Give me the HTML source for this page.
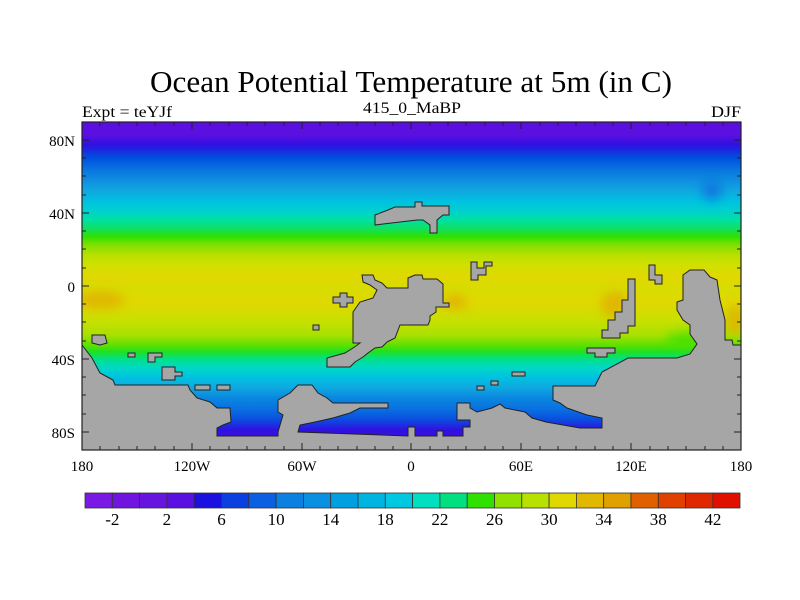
<!DOCTYPE html>
<html><head><meta charset="utf-8"><style>html,body{margin:0;padding:0;background:#fff}svg{display:block}</style></head>
<body>
<svg width="800" height="600" viewBox="0 0 800 600" xmlns="http://www.w3.org/2000/svg" font-family="Liberation Serif, serif">
<defs>
<linearGradient id="g" x1="0" y1="122" x2="0" y2="450" gradientUnits="userSpaceOnUse">
<stop offset="0" stop-color="#5c0ee0"/>
<stop offset="0.04" stop-color="#5a10e0"/>
<stop offset="0.07" stop-color="#3010e0"/>
<stop offset="0.085" stop-color="#1a28e0"/>
<stop offset="0.11" stop-color="#0050e0"/>
<stop offset="0.14" stop-color="#0870e0"/>
<stop offset="0.18" stop-color="#1090e0"/>
<stop offset="0.21" stop-color="#10a8e0"/>
<stop offset="0.24" stop-color="#00c0e0"/>
<stop offset="0.27" stop-color="#00d0d0"/>
<stop offset="0.30" stop-color="#00e0a0"/>
<stop offset="0.325" stop-color="#10e060"/>
<stop offset="0.35" stop-color="#30e000"/>
<stop offset="0.375" stop-color="#80e000"/>
<stop offset="0.405" stop-color="#b8e000"/>
<stop offset="0.435" stop-color="#d0e000"/>
<stop offset="0.47" stop-color="#e0d800"/>
<stop offset="0.51" stop-color="#d8dc00"/>
<stop offset="0.55" stop-color="#e0d800"/>
<stop offset="0.605" stop-color="#c8e000"/>
<stop offset="0.65" stop-color="#a8e000"/>
<stop offset="0.68" stop-color="#60e000"/>
<stop offset="0.70" stop-color="#20e020"/>
<stop offset="0.725" stop-color="#00e090"/>
<stop offset="0.75" stop-color="#00d8c8"/>
<stop offset="0.78" stop-color="#00c0e0"/>
<stop offset="0.81" stop-color="#10a8e0"/>
<stop offset="0.84" stop-color="#0a88e0"/>
<stop offset="0.875" stop-color="#0a70e0"/>
<stop offset="0.905" stop-color="#0a50e0"/>
<stop offset="0.94" stop-color="#3010e0"/>
<stop offset="1" stop-color="#5010e0"/>
</linearGradient>
<filter id="b"><feGaussianBlur stdDeviation="5"/></filter>
<clipPath id="c"><rect x="82" y="122" width="659" height="328"/></clipPath>
</defs>
<text x="411" y="92" font-size="31" text-anchor="middle" textLength="522" lengthAdjust="spacingAndGlyphs">Ocean Potential Temperature at 5m (in C)</text>
<text x="82" y="117" font-size="16" textLength="90" lengthAdjust="spacingAndGlyphs">Expt = teYJf</text>
<text x="412" y="113" font-size="16" text-anchor="middle" textLength="98" lengthAdjust="spacingAndGlyphs">415_0_MaBP</text>
<text x="741" y="117" font-size="16" text-anchor="end" textLength="30" lengthAdjust="spacingAndGlyphs">DJF</text>
<rect x="82" y="122" width="659" height="328" fill="url(#g)"/>
<g clip-path="url(#c)">
<g filter="url(#b)" opacity="0.8">
<ellipse cx="100" cy="300" rx="25" ry="9" fill="#e0b000"/>
<ellipse cx="455" cy="302" rx="12" ry="8" fill="#e0b000"/>
<ellipse cx="615" cy="305" rx="14" ry="14" fill="#e0b000"/>
<ellipse cx="735" cy="320" rx="10" ry="15" fill="#e0b000"/>
<ellipse cx="712" cy="190" rx="10" ry="10" fill="#0a70e0"/>
<ellipse cx="690" cy="340" rx="25" ry="8" fill="#40e000"/>
</g>
</g>
<g fill="#a6a6a6" stroke="#222" stroke-width="1">
<polygon points="82,345 92,358 100,373 113,380 115,385 188,385 190,390 197,398 210,402 217,408 230,408 231,422 223,425 217,428 217,436 278,436 278,432 283,415 278,412 278,400 290,393 298,385 312,385 318,393 327,398 333,403 388,403 388,408 360,408 350,413 333,418 315,422 300,425 298,432 408,436 408,427 415,427 415,436 437,436 437,431 443,431 443,436 463,436 463,427 470,427 470,420 457,420 457,403 470,403 470,408 477,412 492,408 500,404 505,408 525,412 532,418 546,422 580,428 602,428 602,418 587,415 567,408 560,403 553,400 553,386 595,386 602,372 628,358 677,358 690,354 697,344 690,334 690,325 683,320 677,310 677,302 683,300 683,275 690,270 704,270 710,277 717,280 720,300 725,320 725,340 732,340 733,345 741,345 741,450 82,450"/>
<polygon points="362,275 373,275 375,280 382,283 387,288 408,288 408,278 415,275 422,275 423,279 437,279 443,284 443,303 449,303 449,307 436,307 436,312 430,316 430,320 428,325 400,325 395,338 387,342 382,347 375,348 368,353 363,357 355,362 350,367 327,367 327,358 345,353 353,348 360,343 353,343 353,312 360,302 373,298 377,290 370,285 363,282"/>
<polygon points="375,215 388,210 395,207 415,207 415,202 422,202 422,206 449,206 449,215 443,215 437,220 437,233 430,233 430,225 423,220 417,220 375,225"/>
<polygon points="333,297 340,297 340,293 347,293 347,297 353,297 353,303 347,303 347,307 340,307 340,303 333,303"/>
<rect x="313" y="325" width="6" height="5"/>
<polygon points="92,335 105,335 107,343 100,345 92,343"/>
<rect x="128" y="353" width="7" height="4"/>
<polygon points="148,353 162,353 162,357 155,357 155,362 148,362"/>
<polygon points="162,367 175,367 175,372 182,372 182,376 175,376 175,380 162,380"/>
<rect x="195" y="385" width="15" height="5"/>
<rect x="217" y="385" width="13" height="5"/>
<polygon points="471,262 477,262 477,268 484,268 484,262 492,262 492,266 486,266 486,275 478,275 478,280 471,280"/>
<polygon points="628,279 635,279 635,326 628,326 628,333 620,333 620,338 602,338 602,330 608,330 608,320 615,320 615,312 622,312 622,300 628,300"/>
<polygon points="649,265 655,265 655,275 662,275 662,284 655,284 655,280 649,280"/>
<polygon points="587,348 615,348 615,353 607,353 607,357 595,357 595,353 587,353"/>
<rect x="512" y="372" width="13" height="4"/>
<rect x="491" y="381" width="7" height="4"/>
<rect x="477" y="386" width="7" height="4"/>
</g>
<rect x="82" y="122" width="659" height="328" fill="none" stroke="#222" stroke-width="1.2"/>
<g font-size="15">
<text x="75" y="146" text-anchor="end">80N</text>
<text x="75" y="219" text-anchor="end">40N</text>
<text x="75" y="292" text-anchor="end">0</text>
<text x="75" y="365" text-anchor="end">40S</text>
<text x="75" y="438" text-anchor="end">80S</text>
<text x="82" y="471" text-anchor="middle">180</text>
<text x="192" y="471" text-anchor="middle">120W</text>
<text x="302" y="471" text-anchor="middle">60W</text>
<text x="411" y="471" text-anchor="middle">0</text>
<text x="521" y="471" text-anchor="middle">60E</text>
<text x="631" y="471" text-anchor="middle">120E</text>
<text x="741" y="471" text-anchor="middle">180</text>
</g>
<g stroke="#222" stroke-width="1">
<path d="M82 140h7M82 213h7M82 286h7M82 359h7M82 432h7M741 140h-7M741 213h-7M741 286h-7M741 359h-7M741 432h-7M82 158h4M82 176h4M82 195h4M82 231h4M82 249h4M82 268h4M82 304h4M82 322h4M82 341h4M82 377h4M82 395h4M82 414h4M741 158h-4M741 176h-4M741 195h-4M741 231h-4M741 249h-4M741 268h-4M741 304h-4M741 322h-4M741 341h-4M741 377h-4M741 395h-4M741 414h-4"/>
<path d="M192 450v-7M302 450v-7M411 450v-7M521 450v-7M631 450v-7M192 122v7M302 122v7M411 122v7M521 122v7M631 122v7"/>
<path d="M100 450v-4M119 450v-4M137 450v-4M155 450v-4M174 450v-4M210 450v-4M229 450v-4M247 450v-4M265 450v-4M284 450v-4M320 450v-4M338 450v-4M357 450v-4M375 450v-4M393 450v-4M430 450v-4M448 450v-4M466 450v-4M485 450v-4M503 450v-4M540 450v-4M558 450v-4M576 450v-4M595 450v-4M613 450v-4M650 450v-4M668 450v-4M686 450v-4M705 450v-4M723 450v-4"/>
<path d="M100 122v4M119 122v4M137 122v4M155 122v4M174 122v4M210 122v4M229 122v4M247 122v4M265 122v4M284 122v4M320 122v4M338 122v4M357 122v4M375 122v4M393 122v4M430 122v4M448 122v4M466 122v4M485 122v4M503 122v4M540 122v4M558 122v4M576 122v4M595 122v4M613 122v4M650 122v4M668 122v4M686 122v4M705 122v4M723 122v4"/>
</g>
<g stroke="#333" stroke-width="0.8">
<rect x="85.0" y="493" width="27.3" height="15" fill="#7a18e4"/>
<rect x="112.3" y="493" width="27.3" height="15" fill="#7014e0"/>
<rect x="139.6" y="493" width="27.3" height="15" fill="#6614e0"/>
<rect x="166.9" y="493" width="27.3" height="15" fill="#5a10e0"/>
<rect x="194.2" y="493" width="27.3" height="15" fill="#1a10e0"/>
<rect x="221.5" y="493" width="27.3" height="15" fill="#0a40e0"/>
<rect x="248.8" y="493" width="27.3" height="15" fill="#0a60e0"/>
<rect x="276.1" y="493" width="27.3" height="15" fill="#0a80e0"/>
<rect x="303.4" y="493" width="27.3" height="15" fill="#0a90e0"/>
<rect x="330.7" y="493" width="27.3" height="15" fill="#00a0e0"/>
<rect x="358.0" y="493" width="27.3" height="15" fill="#00b4e0"/>
<rect x="385.3" y="493" width="27.3" height="15" fill="#00c8e0"/>
<rect x="412.6" y="493" width="27.3" height="15" fill="#00e0c0"/>
<rect x="439.9" y="493" width="27.3" height="15" fill="#00e080"/>
<rect x="467.2" y="493" width="27.3" height="15" fill="#30e000"/>
<rect x="494.5" y="493" width="27.3" height="15" fill="#90e000"/>
<rect x="521.8" y="493" width="27.3" height="15" fill="#b8e000"/>
<rect x="549.1" y="493" width="27.3" height="15" fill="#e0d800"/>
<rect x="576.4" y="493" width="27.3" height="15" fill="#e0b800"/>
<rect x="603.7" y="493" width="27.3" height="15" fill="#e0a000"/>
<rect x="631.0" y="493" width="27.3" height="15" fill="#e06000"/>
<rect x="658.3" y="493" width="27.3" height="15" fill="#e04000"/>
<rect x="685.6" y="493" width="27.3" height="15" fill="#e02800"/>
<rect x="712.9" y="493" width="27.1" height="15" fill="#e01000"/>
</g>
<g font-size="17" text-anchor="middle">
<text x="112.3" y="525">-2</text>
<text x="166.9" y="525">2</text>
<text x="221.5" y="525">6</text>
<text x="276.1" y="525">10</text>
<text x="330.7" y="525">14</text>
<text x="385.3" y="525">18</text>
<text x="439.9" y="525">22</text>
<text x="494.5" y="525">26</text>
<text x="549.1" y="525">30</text>
<text x="603.7" y="525">34</text>
<text x="658.3" y="525">38</text>
<text x="712.9" y="525">42</text>
</g>
</svg>
</body></html>
